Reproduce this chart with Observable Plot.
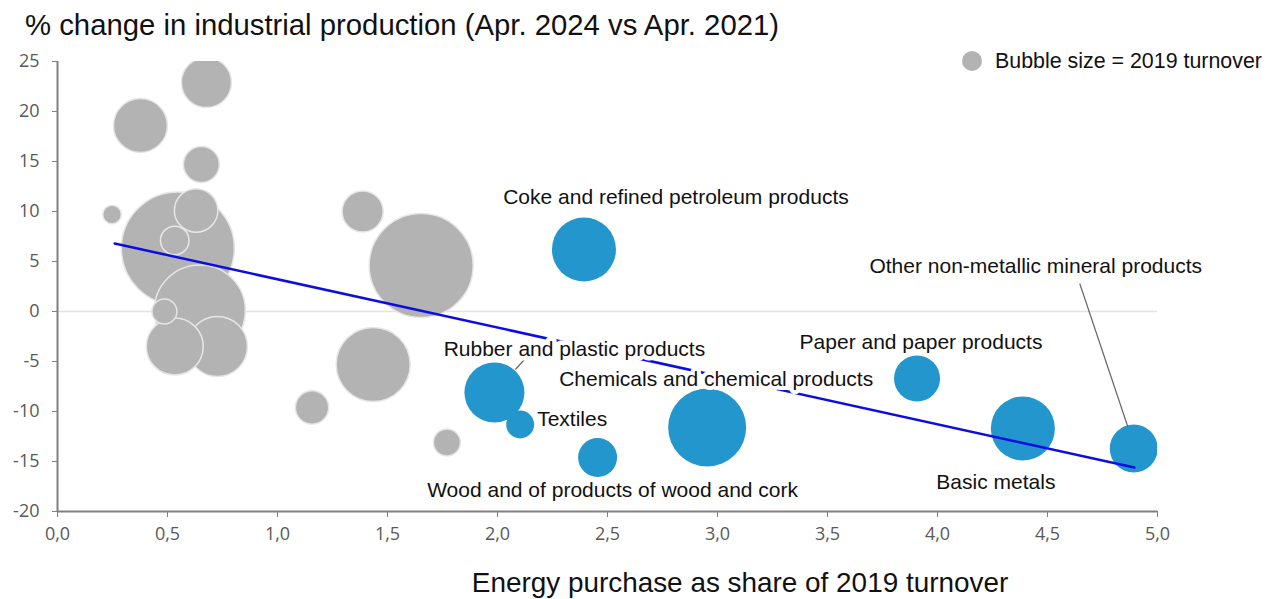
<!DOCTYPE html>
<html>
<head>
<meta charset="utf-8">
<script src="https://cdn.jsdelivr.net/npm/d3@7"></script>
<script src="https://cdn.jsdelivr.net/npm/@observablehq/plot@0.6"></script>
<style>
  body { margin: 0; background: #fff; }
  #wrap { position: relative; width: 1274px; height: 599px; overflow: hidden; font-family: "Liberation Sans", Arial, sans-serif; color: #111; }
  #title { position: absolute; left: 25px; top: 9px; font-size: 29.3px; line-height: 32px; white-space: nowrap; }
  #chart { position: absolute; left: 0; top: 45px; }
  #legend-dot { position: absolute; left: 962px; top: 51px; width: 20px; height: 20px; border-radius: 50%; background: #b3b3b3; }
  #legend-text { position: absolute; left: 995px; top: 49px; font-size: 21.4px; line-height: 24px; white-space: nowrap; }
  #xlabel { position: absolute; left: 740px; top: 567px; transform: translateX(-50%); font-size: 27.9px; line-height: 32px; white-space: nowrap; }
</style>
</head>
<body>
<div id="wrap">
  <div id="title">% change in industrial production (Apr. 2024 vs Apr. 2021)</div>
  <div id="chart"></div>
  <div id="legend-dot"></div>
  <div id="legend-text">Bubble size = 2019 turnover</div>
  <div id="xlabel">Energy purchase as share of 2019 turnover</div>
</div>
<script>
// ---- Data ----
// Grey (unlabelled) sectors: energy share (x), % change (y), 2019 turnover (relative)
const greyX = [0.677, 0.377, 0.654, 0.248, 0.547, 0.630, 0.533, 0.647, 0.486, 0.533, 0.727, 1.387, 1.653, 1.435, 1.157, 1.770];
const greyY = [22.9, 18.6, 14.7, 9.7, 6.3, 10.1, 7.1, 0.1, 0.0, -3.5, -3.5, 10.0, 4.6, -5.3, -9.6, -13.1];
const greyT = [19.6, 22.8, 10.1, 2.7, 100, 14.8, 6.4, 64.9, 4.9, 25.4, 28.2, 13.2, 84.7, 42.9, 8.7, 5.7];

// Blue (labelled) sectors
const blueNames = [
  "Coke and refined petroleum products",
  "Rubber and plastic products",
  "Textiles",
  "Wood and of products of wood and cork",
  "Chemicals and chemical products",
  "Paper and paper products",
  "Basic metals",
  "Other non-metallic mineral products"
];
const blueX = [2.393, 1.986, 2.103, 2.455, 2.953, 3.907, 4.388, 4.892];
const blueY = [6.2, -8.1, -11.3, -14.6, -11.6, -6.7, -11.7, -13.7];
const blueT = [32.1, 28.2, 6.1, 11.9, 47.6, 16.6, 32.1, 18.0];

// Trend line endpoints
const trendX = [0.26, 4.895];
const trendY = [6.8, -15.6];

// Axis ticks
const xTicks = [0, 0.5, 1, 1.5, 2, 2.5, 3, 3.5, 4, 4.5, 5];
const yTicks = [25, 20, 15, 10, 5, 0, -5, -10, -15, -20];

// ---- Layout (pixels) ----
const W = 1274, H = 510, ML = 57, MR = 117, MT = 16, MB = 44;
const kx = (W - ML - MR) / 5;   // px per x unit
const ky = (H - MT - MB) / 45;  // px per y unit

// label placement relative to bubble centre, in pixels
const labelLayout = {
  "Coke and refined petroleum products": {dx: 92, dy: -52, anchor: "middle", halo: 5},
  "Rubber and plastic products": {dx: 80, dy: -43, anchor: "middle", halo: 9},
  "Textiles": {dx: 17, dy: -5, anchor: "start", halo: 4},
  "Wood and of products of wood and cork": {dx: 15, dy: 33, anchor: "middle", halo: 5},
  "Chemicals and chemical products": {dx: 9, dy: -48, anchor: "middle", halo: 8},
  "Paper and paper products": {dx: 4, dy: -36, anchor: "middle", halo: 5},
  "Basic metals": {dx: -27, dy: 54, anchor: "middle", halo: 5},
  "Other non-metallic mineral products": {dx: -98, dy: -182, anchor: "middle", halo: 5}
};
const leaderLayout = {
  "Other non-metallic mineral products": [-54, -165, -6, -22],
  "Rubber and plastic products": [30, -33, 21, -23]
};

const grey = greyX.map((x, i) => ({x, y: greyY[i], t: greyT[i]}));
const blue = blueX.map((x, i) => ({x, y: blueY[i], t: blueT[i], name: blueNames[i]}));
const trend = trendX.map((x, i) => ({x, y: trendY[i]}));

const leaders = blue.filter(d => leaderLayout[d.name]).map(d => {
  const [a, b, c, e] = leaderLayout[d.name];
  return {x1: d.x + a / kx, y1: d.y - b / ky, x2: d.x + c / kx, y2: d.y - e / ky};
});

const labelMarks = blue.map(d => {
  const L = labelLayout[d.name];
  return Plot.text([d], {
    x: "x", y: "y", text: "name", dx: L.dx, dy: L.dy, textAnchor: L.anchor,
    fontFamily: "Liberation Sans, Arial, sans-serif", fontSize: 21, fill: "#111",
    stroke: "white", strokeWidth: L.halo, paintOrder: "stroke"
  });
});

const fmtX = d => d.toFixed(1).replace(".", ",");

const chart = Plot.plot({
  width: W, height: H,
  marginLeft: ML, marginRight: MR, marginTop: MT, marginBottom: MB,
  style: {background: "white", color: "#595959"},
  x: {domain: [0, 5], ticks: xTicks, tickFormat: fmtX, label: null},
  y: {domain: [-20, 25], ticks: yTicks, tickFormat: d => String(d), label: null},
  r: {type: "sqrt", domain: [0, 100], range: [0, 56.5]},
  marks: [
    Plot.ruleY([0], {stroke: "#e2e2e2", strokeWidth: 1.5}),
    Plot.dot(grey, {x: "x", y: "y", r: "t", fill: "#b3b3b3", stroke: "#e6e6e6", strokeWidth: 1.5, clip: true}),
    Plot.dot(blue, {x: "x", y: "y", r: "t", fill: "#2396ce", clip: true}),
    Plot.line(trend, {x: "x", y: "y", stroke: "#0d0de3", strokeWidth: 2.5}),
    Plot.link(leaders, {x1: "x1", y1: "y1", x2: "x2", y2: "y2", stroke: "#666", strokeWidth: 1.2}),
    ...labelMarks,
    Plot.axisX({ticks: xTicks, tickSize: 6, tickPadding: 10, stroke: "#808080", fill: "#595959", fontSize: 18, tickFormat: fmtX, label: null}),
    Plot.axisY({ticks: yTicks, tickSize: 5, tickPadding: 13, stroke: "#808080", fill: "#595959", fontSize: 18, tickFormat: d => String(d), label: null}),
    Plot.ruleY([-20], {stroke: "#808080", strokeWidth: 2}),
    Plot.ruleX([0], {stroke: "#808080", strokeWidth: 2})
  ]
});
// enforce tick label typography on axis texts (not on the sector labels)
d3.select(chart).selectAll("text").filter(function () {
  return !this.closest("g[aria-label='text']");
}).style("font-size", "18px").style("font-family", "'Open Sans', sans-serif");
document.getElementById("chart").appendChild(chart);
</script>
</body>
</html>
